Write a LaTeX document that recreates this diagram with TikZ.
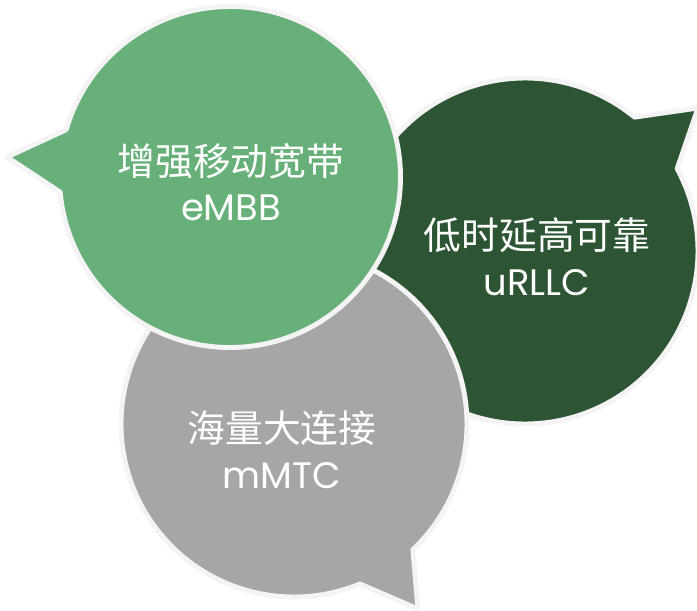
\documentclass[tikz,border=0pt]{standalone}
\usepackage{fontspec}
\setmainfont{Poppins}
\newfontfamily\cjkfont{Noto Sans CJK SC}
\usetikzlibrary{positioning}
\definecolor{embbcolor}{RGB}{104,176,122}
\definecolor{urllccolor}{RGB}{45,85,52}
\definecolor{mmtccolor}{RGB}{166,166,166}
\definecolor{rimcolor}{RGB}{244,244,244}

\begin{document}
\begin{tikzpicture}[x=0.02cm, y=0.02cm,
    bubble/.style={draw=rimcolor, line width=2.8pt, line join=round},
    bubbletext/.style={text=white, align=center, font=\fontsize{21}{26}\selectfont}]
\useasboundingbox (0,0) rectangle (697,610);
% uRLLC bubble, pointer to the upper right
\filldraw[bubble, fill=urllccolor] ([shift={(525,359)}]28.4:173) -- (698,502)
    -- ([shift={(525,359)}]50.7:173) arc[start angle=50.7, end angle=388.4, radius=173] -- cycle;
% mMTC bubble, pointer down
\filldraw[bubble, fill=mmtccolor] ([shift={(294,186)}]292.4:173) -- (418,1)
    -- ([shift={(294,186)}]313.4:173) arc[start angle=313.4, end angle=652.4, radius=173] -- cycle;
% eMBB bubble, pointer to the left
\filldraw[bubble, fill=embbcolor] ([shift={(230,433)}]163.9:170.5) -- (7,453)
    -- ([shift={(230,433)}]185.1:170.5) arc[start angle=185.1, end angle=523.9, radius=170.5] -- cycle;
\node[bubbletext] (embb) at (231,428) {{\cjkfont\fontsize{21.5}{26}\selectfont 增强移动宽带}\\eMBB};
\node[bubbletext] (urllc) at (537,353) {{\cjkfont\fontsize{21.5}{26}\selectfont 低时延高可靠}\\uRLLC};
\node[bubbletext] (mmtc) at (282,160) {{\cjkfont\fontsize{21.5}{26}\selectfont 海量大连接}\\mMTC};
\end{tikzpicture}
\end{document}
